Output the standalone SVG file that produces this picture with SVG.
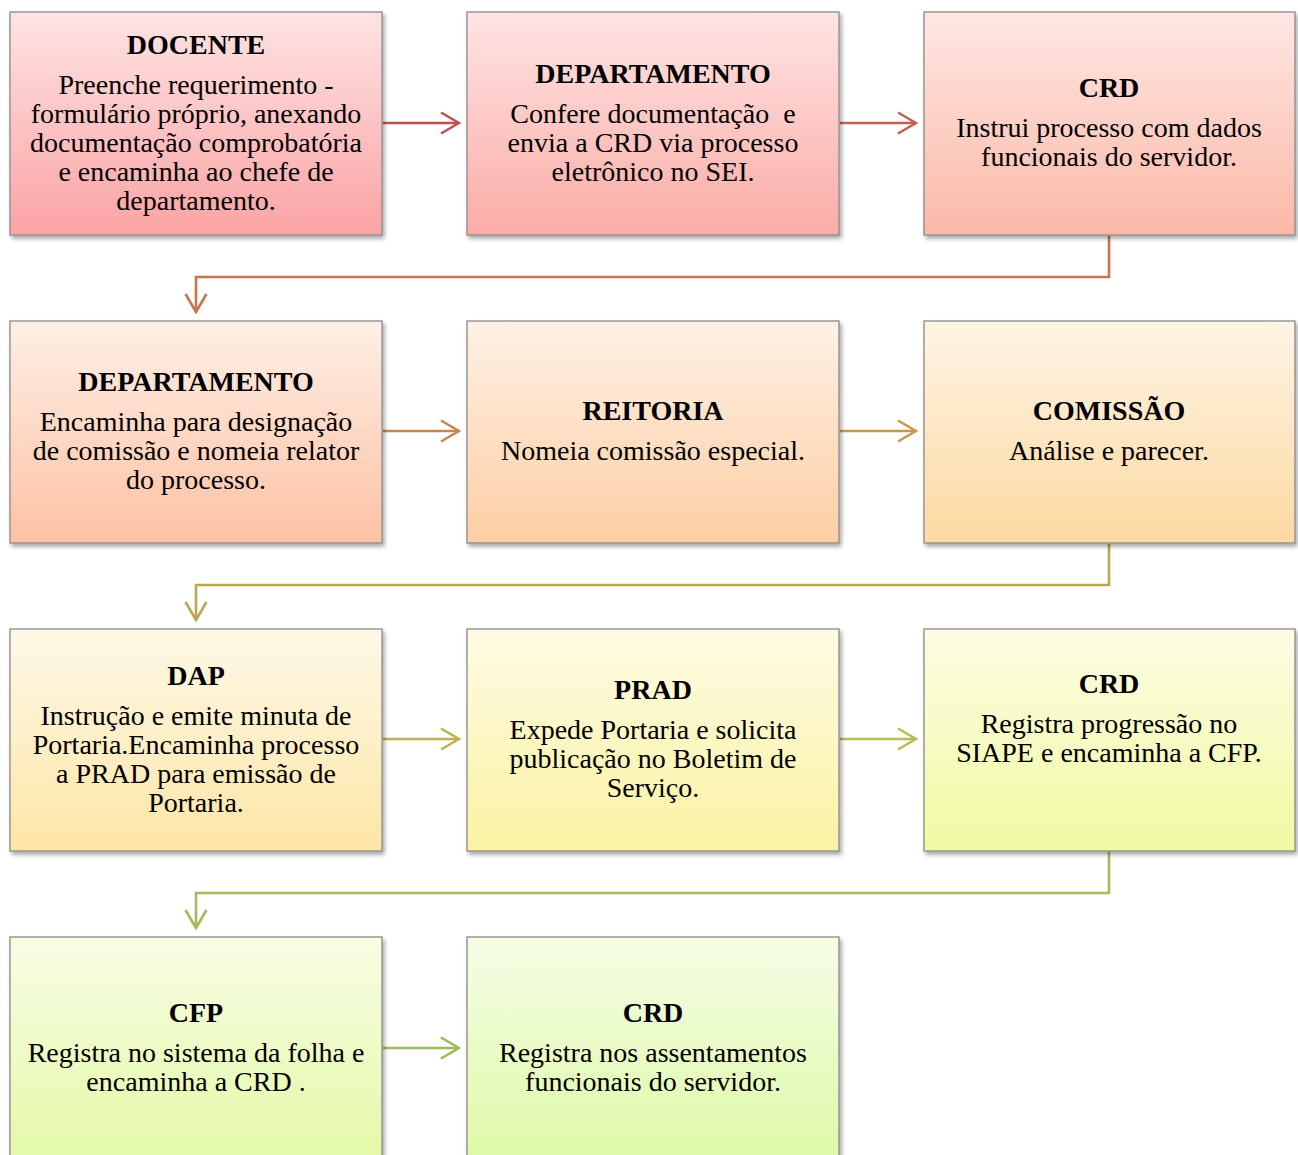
<svg xmlns="http://www.w3.org/2000/svg" width="1298" height="1155" viewBox="0 0 1298 1155">
<style>
.box{stroke:#8a8a8a;stroke-width:1.3;filter:url(#sh)}
.t{font-family:"Liberation Serif","Times New Roman",serif;font-size:28px;font-weight:bold;fill:#000;text-anchor:middle}
.b{font-family:"Liberation Serif","Times New Roman",serif;font-size:28px;fill:#000;text-anchor:middle}
.c{fill:none;stroke-width:2.6}
</style>
<defs>
<filter id="sh" x="-5%" y="-5%" width="112%" height="115%">
<feDropShadow dx="2" dy="3" stdDeviation="2" flood-color="#000" flood-opacity="0.35"/>
</filter>
<linearGradient id="g1" x1="0" y1="0" x2="0" y2="1"><stop offset="0" stop-color="#fee4e4"/><stop offset="1" stop-color="#fba3a4"/></linearGradient>
<linearGradient id="g2" x1="0" y1="0" x2="0" y2="1"><stop offset="0" stop-color="#fee4e3"/><stop offset="1" stop-color="#fbaca7"/></linearGradient>
<linearGradient id="g3" x1="0" y1="0" x2="0" y2="1"><stop offset="0" stop-color="#fee7e3"/><stop offset="1" stop-color="#fbb9a8"/></linearGradient>
<linearGradient id="g4" x1="0" y1="0" x2="0" y2="1"><stop offset="0" stop-color="#feefe6"/><stop offset="1" stop-color="#fdc2a4"/></linearGradient>
<linearGradient id="g5" x1="0" y1="0" x2="0" y2="1"><stop offset="0" stop-color="#fef1e5"/><stop offset="1" stop-color="#fdcea4"/></linearGradient>
<linearGradient id="g6" x1="0" y1="0" x2="0" y2="1"><stop offset="0" stop-color="#fef4e5"/><stop offset="1" stop-color="#fdd9a2"/></linearGradient>
<linearGradient id="g7" x1="0" y1="0" x2="0" y2="1"><stop offset="0" stop-color="#fef8e8"/><stop offset="1" stop-color="#fde6a6"/></linearGradient>
<linearGradient id="g8" x1="0" y1="0" x2="0" y2="1"><stop offset="0" stop-color="#fefbe4"/><stop offset="1" stop-color="#fbf2a3"/></linearGradient>
<linearGradient id="g9" x1="0" y1="0" x2="0" y2="1"><stop offset="0" stop-color="#fcfde4"/><stop offset="1" stop-color="#f1f9a2"/></linearGradient>
<linearGradient id="g10" x1="0" y1="0" x2="0" y2="1"><stop offset="0" stop-color="#f8fde4"/><stop offset="1" stop-color="#e4f9a8"/></linearGradient>
<linearGradient id="g11" x1="0" y1="0" x2="0" y2="1"><stop offset="0" stop-color="#f5fde6"/><stop offset="1" stop-color="#def9a8"/></linearGradient>
<marker id="m1" markerUnits="userSpaceOnUse" viewBox="0 0 22 26" refX="20" refY="13" markerWidth="22" markerHeight="26" orient="auto"><path d="M2,2.5 L20,13 L2,23.5" fill="none" stroke="#c0504d" stroke-width="2.6"/></marker>
<marker id="m2" markerUnits="userSpaceOnUse" viewBox="0 0 22 26" refX="20" refY="13" markerWidth="22" markerHeight="26" orient="auto"><path d="M2,2.5 L20,13 L2,23.5" fill="none" stroke="#c4604e" stroke-width="2.6"/></marker>
<marker id="m3" markerUnits="userSpaceOnUse" viewBox="0 0 22 26" refX="20" refY="13" markerWidth="22" markerHeight="26" orient="auto"><path d="M2,2.5 L20,13 L2,23.5" fill="none" stroke="#c8744f" stroke-width="2.6"/></marker>
<marker id="m4" markerUnits="userSpaceOnUse" viewBox="0 0 22 26" refX="20" refY="13" markerWidth="22" markerHeight="26" orient="auto"><path d="M2,2.5 L20,13 L2,23.5" fill="none" stroke="#c8864b" stroke-width="2.6"/></marker>
<marker id="m5" markerUnits="userSpaceOnUse" viewBox="0 0 22 26" refX="20" refY="13" markerWidth="22" markerHeight="26" orient="auto"><path d="M2,2.5 L20,13 L2,23.5" fill="none" stroke="#c8984b" stroke-width="2.6"/></marker>
<marker id="m6" markerUnits="userSpaceOnUse" viewBox="0 0 22 26" refX="20" refY="13" markerWidth="22" markerHeight="26" orient="auto"><path d="M2,2.5 L20,13 L2,23.5" fill="none" stroke="#bea550" stroke-width="2.6"/></marker>
<marker id="m7" markerUnits="userSpaceOnUse" viewBox="0 0 22 26" refX="20" refY="13" markerWidth="22" markerHeight="26" orient="auto"><path d="M2,2.5 L20,13 L2,23.5" fill="none" stroke="#c0b04e" stroke-width="2.6"/></marker>
<marker id="m8" markerUnits="userSpaceOnUse" viewBox="0 0 22 26" refX="20" refY="13" markerWidth="22" markerHeight="26" orient="auto"><path d="M2,2.5 L20,13 L2,23.5" fill="none" stroke="#b7bd51" stroke-width="2.6"/></marker>
<marker id="m9" markerUnits="userSpaceOnUse" viewBox="0 0 22 26" refX="20" refY="13" markerWidth="22" markerHeight="26" orient="auto"><path d="M2,2.5 L20,13 L2,23.5" fill="none" stroke="#a8b95a" stroke-width="2.6"/></marker>
<marker id="m10" markerUnits="userSpaceOnUse" viewBox="0 0 22 26" refX="20" refY="13" markerWidth="22" markerHeight="26" orient="auto"><path d="M2,2.5 L20,13 L2,23.5" fill="none" stroke="#9bbb59" stroke-width="2.6"/></marker>
</defs>
<rect width="1298" height="1155" fill="#ffffff"/>

<g id="connectors">
<path class="c" stroke="#c0504d" d="M383,123 H459" marker-end="url(#m1)"/>
<path class="c" stroke="#c4604e" d="M840,123 H916" marker-end="url(#m2)"/>
<path class="c" stroke="#c8744f" d="M1109,236 V277 H196 V312" marker-end="url(#m3)"/>
<path class="c" stroke="#c8864b" d="M383,431 H459" marker-end="url(#m4)"/>
<path class="c" stroke="#c8984b" d="M840,431 H916" marker-end="url(#m5)"/>
<path class="c" stroke="#bea550" d="M1109,544 V585 H196 V620" marker-end="url(#m6)"/>
<path class="c" stroke="#c0b04e" d="M383,739 H459" marker-end="url(#m7)"/>
<path class="c" stroke="#b7bd51" d="M840,739 H916" marker-end="url(#m8)"/>
<path class="c" stroke="#a8b95a" d="M1109,852 V893 H196 V928" marker-end="url(#m9)"/>
<path class="c" stroke="#9bbb59" d="M383,1048 H459" marker-end="url(#m10)"/>
</g>

<g id="n1">
<rect class="box" x="10" y="12" width="372" height="223" fill="url(#g1)"/>
<text class="t" x="196" y="54">DOCENTE</text>
<text class="b" x="196" y="94">Preenche requerimento -</text>
<text class="b" x="196" y="123">formulário próprio, anexando</text>
<text class="b" x="196" y="152">documentação comprobatória</text>
<text class="b" x="196" y="181">e encaminha ao chefe de</text>
<text class="b" x="196" y="210">departamento.</text>
</g>

<g id="n2">
<rect class="box" x="467" y="12" width="372" height="223" fill="url(#g2)"/>
<text class="t" x="653" y="83">DEPARTAMENTO</text>
<text class="b" x="653" y="123" style="white-space:pre">Confere documentação  e</text>
<text class="b" x="653" y="152">envia a CRD via processo</text>
<text class="b" x="653" y="181">eletrônico no SEI.</text>
</g>

<g id="n3">
<rect class="box" x="924" y="12" width="371" height="223" fill="url(#g3)"/>
<text class="t" x="1109" y="97">CRD</text>
<text class="b" x="1109" y="137">Instrui processo com dados</text>
<text class="b" x="1109" y="166">funcionais do servidor.</text>
</g>

<g id="n4">
<rect class="box" x="10" y="321" width="372" height="222" fill="url(#g4)"/>
<text class="t" x="196" y="391">DEPARTAMENTO</text>
<text class="b" x="196" y="431">Encaminha para designação</text>
<text class="b" x="196" y="460">de comissão e nomeia relator</text>
<text class="b" x="196" y="489">do processo.</text>
</g>

<g id="n5">
<rect class="box" x="467" y="321" width="372" height="222" fill="url(#g5)"/>
<text class="t" x="653" y="420">REITORIA</text>
<text class="b" x="653" y="460">Nomeia comissão especial.</text>
</g>

<g id="n6">
<rect class="box" x="924" y="321" width="371" height="222" fill="url(#g6)"/>
<text class="t" x="1109" y="420">COMISSÃO</text>
<text class="b" x="1109" y="460">Análise e parecer.</text>
</g>

<g id="n7">
<rect class="box" x="10" y="629" width="372" height="222" fill="url(#g7)"/>
<text class="t" x="196" y="685">DAP</text>
<text class="b" x="196" y="725">Instrução e emite minuta de</text>
<text class="b" x="196" y="754">Portaria.Encaminha processo</text>
<text class="b" x="196" y="783">a PRAD para emissão de</text>
<text class="b" x="196" y="812">Portaria.</text>
</g>

<g id="n8">
<rect class="box" x="467" y="629" width="372" height="222" fill="url(#g8)"/>
<text class="t" x="653" y="699">PRAD</text>
<text class="b" x="653" y="739">Expede Portaria e solicita</text>
<text class="b" x="653" y="768">publicação no Boletim de</text>
<text class="b" x="653" y="797">Serviço.</text>
</g>

<g id="n9">
<rect class="box" x="924" y="629" width="371" height="222" fill="url(#g9)"/>
<text class="t" x="1109" y="693">CRD</text>
<text class="b" x="1109" y="733">Registra progressão no</text>
<text class="b" x="1109" y="762">SIAPE e encaminha a CFP.</text>
</g>

<g id="n10">
<rect class="box" x="10" y="937" width="372" height="223" fill="url(#g10)"/>
<text class="t" x="196" y="1022">CFP</text>
<text class="b" x="196" y="1062">Registra no sistema da folha e</text>
<text class="b" x="196" y="1091">encaminha a CRD .</text>
</g>

<g id="n11">
<rect class="box" x="467" y="937" width="372" height="223" fill="url(#g11)"/>
<text class="t" x="653" y="1022">CRD</text>
<text class="b" x="653" y="1062">Registra nos assentamentos</text>
<text class="b" x="653" y="1091">funcionais do servidor.</text>
</g>
</svg>
